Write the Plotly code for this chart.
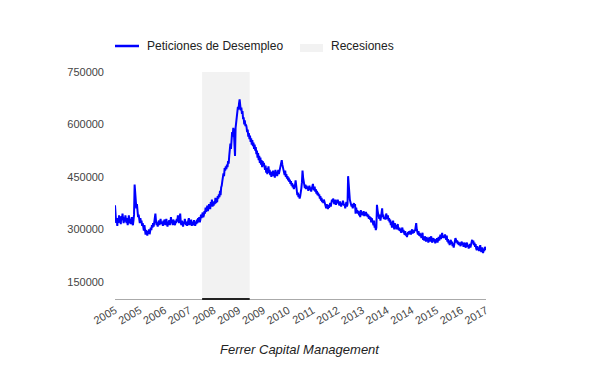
import pandas as pd
import plotly.graph_objects as go

# Weekly initial jobless claims (thousands), starting 2005-01-08
claims_2005 = [369, 345, 318, 325, 310, 332, 318, 340, 322, 330, 315, 338, 326, 345, 330, 318, 334, 322, 340, 328,
               318, 332, 312, 325, 340, 318, 330, 315, 322, 335, 318, 312, 325, 342, 428, 405, 380, 360, 372, 348,
               335, 342, 326, 318, 332, 320, 325, 310, 318, 302, 296, 312]
claims_2006 = [292, 285, 298, 288, 282, 295, 290, 300, 286, 296, 305, 298, 312, 305, 318, 308, 322, 335, 345, 325,
               312, 320, 308, 318, 325, 312, 322, 330, 315, 322, 318, 310, 325, 318, 328, 312, 320, 330, 316, 308,
               322, 318, 326, 312, 320, 335, 318, 325, 312, 328, 320, 315]
claims_2007 = [312, 325, 318, 330, 322, 340, 328, 318, 332, 345, 320, 312, 325, 318, 308, 322, 315, 330, 318, 312,
               322, 310, 318, 325, 332, 312, 320, 316, 328, 310, 322, 318, 312, 326, 318, 310, 322, 315, 328, 318,
               332, 322, 335, 320, 328, 342, 332, 338, 348, 335, 340, 352]
claims_2008 = [345, 362, 350, 358, 368, 352, 360, 372, 365, 358, 378, 370, 385, 365, 375, 368, 380, 372, 390, 375,
               382, 378, 395, 388, 400, 392, 410, 398, 420, 425, 438, 445, 460, 452, 475, 468, 480, 472, 485, 478,
               495, 488, 510, 525, 545, 530, 560, 578, 565, 590, 580, 520]
claims_2009 = [510, 590, 615, 608, 635, 650, 642, 660, 672, 655, 640, 648, 630, 638, 615, 620, 600, 612, 595, 600,
               592, 578, 585, 565, 575, 558, 568, 550, 560, 542, 555, 538, 548, 530, 542, 525, 535, 515, 525, 505,
               518, 498, 510, 490, 505, 485, 498, 478, 495, 482, 490, 478]
claims_2010 = [470, 482, 462, 475, 458, 470, 480, 462, 470, 455, 465, 450, 462, 455, 468, 452, 460, 448, 470, 458,
               465, 452, 462, 470, 458, 465, 475, 482, 490, 498, 485, 478, 470, 462, 455, 468, 450, 458, 445, 452,
               440, 448, 436, 442, 430, 438, 425, 432, 420, 428, 415, 422]
claims_2011 = [425, 440, 418, 410, 398, 405, 392, 400, 388, 395, 402, 418, 435, 468, 448, 432, 425, 418, 428, 415,
               425, 415, 422, 410, 418, 425, 412, 420, 408, 415, 425, 430, 418, 412, 422, 408, 415, 402, 410, 398,
               405, 395, 400, 388, 395, 382, 390, 378, 385, 375, 385, 380]
claims_2012 = [375, 368, 360, 372, 365, 358, 370, 362, 368, 375, 365, 372, 385, 378, 388, 380, 372, 378, 385, 370,
               380, 375, 385, 378, 372, 368, 380, 372, 365, 375, 370, 382, 375, 368, 372, 360, 370, 378, 365, 372,
               452, 420, 395, 385, 378, 370, 365, 372, 360, 368, 375, 365]
claims_2013 = [372, 345, 362, 350, 355, 345, 352, 340, 348, 335, 355, 342, 350, 340, 345, 352, 338, 348, 342, 350,
               338, 345, 335, 342, 330, 338, 328, 335, 320, 332, 325, 318, 312, 325, 305, 312, 298, 305, 370, 355,
               345, 338, 330, 342, 325, 335, 348, 360, 335, 342, 330, 335]
claims_2014 = [335, 328, 345, 338, 330, 340, 325, 332, 320, 328, 312, 322, 305, 315, 325, 310, 300, 318, 305, 312,
               300, 308, 315, 302, 298, 305, 295, 302, 290, 298, 305, 292, 298, 290, 285, 295, 282, 288, 278, 286,
               292, 285, 295, 288, 296, 285, 292, 300, 288, 294, 290, 298]
claims_2015 = [295, 310, 318, 300, 290, 285, 295, 282, 290, 280, 288, 275, 282, 290, 270, 278, 268, 280, 272, 265,
               278, 270, 275, 262, 270, 278, 265, 272, 280, 268, 262, 270, 275, 265, 272, 260, 268, 264, 275, 262,
               270, 278, 268, 275, 285, 272, 280, 290, 276, 282, 275, 280]
claims_2016 = [285, 278, 270, 282, 265, 272, 260, 268, 255, 262, 270, 258, 265, 252, 260, 248, 258, 265, 275, 270,
               262, 268, 258, 265, 255, 262, 258, 252, 260, 265, 255, 262, 250, 258, 262, 252, 248, 256, 262, 250,
               255, 245, 252, 258, 248, 255, 262, 270, 260, 268, 255, 262]
claims_2017 = [250, 258, 245, 240, 252, 242, 248, 238, 245, 255, 240, 235, 248, 242, 232, 245, 238, 250, 242, 246]

tick_labels = ["2005", "2005", "2006", "2007", "2008", "2009", "2009", "2010",
               "2011", "2012", "2013", "2014", "2014", "2015", "2016", "2017"]
y_ticks = [150000, 300000, 450000, 600000, 750000]

recession_start = "2007-12-01"
recession_end = "2009-06-30"

claims = (claims_2005 + claims_2006 + claims_2007 + claims_2008 + claims_2009 +
          claims_2010 + claims_2011 + claims_2012 + claims_2013 + claims_2014 +
          claims_2015 + claims_2016 + claims_2017)
values = [v * 1000 for v in claims]
dates = pd.date_range("2005-01-08", periods=len(values), freq="7D")
tick_pos = pd.date_range(dates[0], dates[-1], periods=len(tick_labels))

BLUE = "#0000ff"
GRAY_BOX = "#f2f2f2"

fig = go.Figure()
fig.add_trace(go.Scatter(x=dates, y=values, mode="lines",
                         line=dict(color=BLUE, width=2),
                         name="Peticiones de Desempleo", showlegend=False,
                         hoverinfo="x+y"))

# Recession band
fig.add_shape(type="rect", xref="x", yref="paper", x0=recession_start, x1=recession_end,
              y0=0, y1=1, fillcolor=GRAY_BOX, line=dict(width=0), layer="below")
# dark marker on the axis under the recession
fig.add_shape(type="line", xref="x", yref="paper", x0=recession_start, x1=recession_end,
              y0=0, y1=0, line=dict(color="#222222", width=2), layer="above")

# Page coordinates of the plot area (page has an 8px body margin)
PL, PR, PT, PB = 115, 486, 72, 299
W, H = PR - PL, PB - PT
def px(x):
    return (x - PL) / W
def py(y):
    return (PB - y) / H

# Legend (manual)
fig.add_shape(type="line", xref="paper", yref="paper", x0=px(115), x1=px(139),
              y0=py(46), y1=py(46), line=dict(color=BLUE, width=2.5))
fig.add_annotation(xref="paper", yref="paper", x=px(145), y=py(46), text="Peticiones de Desempleo",
                   showarrow=False, xanchor="left", yanchor="middle",
                   font=dict(size=12, color="#222222"))
fig.add_shape(type="rect", xref="paper", yref="paper", x0=px(300), x1=px(323),
              y0=py(52), y1=py(44), fillcolor=GRAY_BOX, line=dict(width=0))
fig.add_annotation(xref="paper", yref="paper", x=px(329), y=py(46), text="Recesiones",
                   showarrow=False, xanchor="left", yanchor="middle",
                   font=dict(size=12, color="#222222"))

# Bottom caption
fig.add_annotation(xref="paper", yref="paper", x=px(300), y=py(349),
                   text="<i>Ferrer Capital Management</i>", showarrow=False,
                   xanchor="center", yanchor="middle",
                   font=dict(size=13, color="#222222"))

fig.update_layout(
    width=600, height=371,
    margin=dict(l=PL - 8, r=600 - (PR - 8), t=PT - 8, b=371 - (PB - 8)),
    paper_bgcolor="white", plot_bgcolor="white",
    font=dict(family="Liberation Sans, Arial, sans-serif", size=11, color="#444444"),
    showlegend=False,
    xaxis=dict(type="date", range=[dates[0], dates[-1]],
               tickmode="array", tickvals=list(tick_pos), ticktext=tick_labels,
               tickangle=-30, showgrid=False, zeroline=False,
               showline=True, linecolor="#aaaaaa", linewidth=1,
               ticks="", tickfont=dict(size=11, color="#444444")),
    yaxis=dict(range=[100700, 750000], tickmode="array", tickvals=y_ticks,
               ticktext=[str(v) for v in y_ticks],
               showgrid=False, zeroline=False, showline=False, ticks="",
               ticklabelstandoff=10, tickfont=dict(size=11, color="#444444")),
)

fig.write_html("out.html")
